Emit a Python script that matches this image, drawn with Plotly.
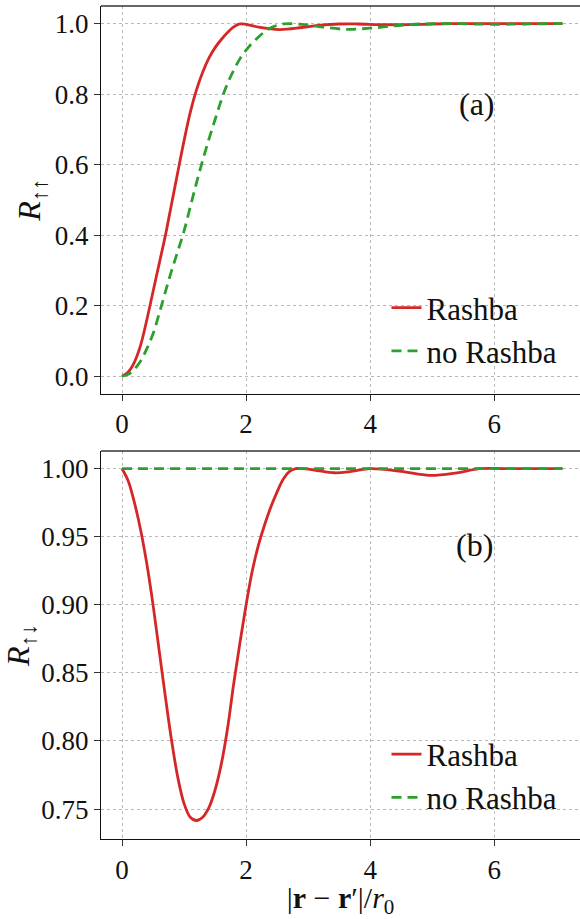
import plotly.graph_objects as go

# ---- data ----
x_a_rashba = [0, 0.1, 0.2, 0.3, 0.4, 0.5, 0.6, 0.7, 0.8, 0.9, 1.0, 1.1, 1.2, 1.3, 1.4, 1.5, 1.6, 1.7,
              1.8, 1.9, 2.0, 2.2, 2.54, 2.9, 3.2, 3.5, 3.8, 4.2, 4.6, 5.0, 5.5, 6.0, 6.5, 7.1]
y_a_rashba = [0, 0.012, 0.040, 0.088, 0.160, 0.240, 0.320, 0.400, 0.490, 0.580, 0.668, 0.748, 0.812,
              0.862, 0.902, 0.932, 0.955, 0.975, 0.991, 0.999, 0.998, 0.990, 0.983, 0.989, 0.996, 0.999,
              0.999, 0.997, 0.997, 0.999, 1.0, 1.0, 1.0, 1.0]

x_a_norashba = [0, 0.1, 0.2, 0.3, 0.4, 0.5, 0.6, 0.7, 0.8, 0.9, 1.0, 1.1, 1.2, 1.3, 1.4, 1.5, 1.6, 1.7,
                1.8, 1.9, 2.0, 2.1, 2.2, 2.3, 2.4, 2.5, 2.6, 2.7, 2.9, 3.2, 3.6, 4.0, 4.4, 4.8, 5.3,
                6.0, 6.5, 7.1]
y_a_norashba = [0, 0.005, 0.02, 0.043, 0.078, 0.12, 0.178, 0.24, 0.30, 0.355, 0.412, 0.48, 0.548,
                0.612, 0.672, 0.728, 0.783, 0.83, 0.868, 0.90, 0.925, 0.945, 0.962, 0.977, 0.988,
                0.995, 0.999, 1.0, 0.998, 0.991, 0.984, 0.987, 0.994, 0.999, 1.0, 0.998, 0.999, 1.0]

x_b_rashba = [0, 0.1, 0.2, 0.3, 0.4, 0.5, 0.6, 0.7, 0.8, 0.9, 1.0, 1.1, 1.2, 1.3, 1.4, 1.5, 1.6, 1.7,
              1.8, 1.9, 2.0, 2.1, 2.2, 2.3, 2.4, 2.5, 2.6, 2.7, 2.8, 2.9, 3.1, 3.43, 3.7, 4.0, 4.5,
              4.96, 5.4, 5.77, 6.2, 6.7, 7.1]
y_b_rashba = [1.0, 0.991, 0.975, 0.955, 0.93, 0.90, 0.866, 0.832, 0.80, 0.773, 0.754, 0.744, 0.7416,
              0.744, 0.751, 0.764, 0.783, 0.809, 0.842, 0.872, 0.90, 0.925, 0.944, 0.959, 0.972, 0.983,
              0.9925, 0.998, 1.0, 1.0, 0.999, 0.997, 0.998, 1.0, 0.998, 0.9951, 0.997, 1.0, 1.0, 1.0, 1.0]

x_b_norashba = [0, 1, 2, 3, 4, 5, 6, 7.1]
y_b_norashba = [1, 1, 1, 1, 1, 1, 1, 1]

series_names = ["Rashba", "no Rashba"]
panel_labels = ["(a)", "(b)"]
x_ticks = [0, 2, 4, 6]
y_ticks_a = [0.0, 0.2, 0.4, 0.6, 0.8, 1.0]
y_ticks_b = [0.75, 0.80, 0.85, 0.90, 0.95, 1.00]

RED = "#d62728"
GREEN = "#2ca02c"
FONT = "Liberation Serif"
LW = 2.8

fig = go.Figure()
fig.add_trace(go.Scatter(x=x_a_rashba, y=y_a_rashba, mode="lines", name=series_names[0],
                         line=dict(color=RED, width=LW, shape="spline", smoothing=1.0),
                         xaxis="x", yaxis="y", legend="legend"))
fig.add_trace(go.Scatter(x=x_a_norashba, y=y_a_norashba, mode="lines", name=series_names[1],
                         line=dict(color=GREEN, width=LW, dash="10px,6px", shape="spline", smoothing=1.0),
                         xaxis="x", yaxis="y", legend="legend"))
fig.add_trace(go.Scatter(x=x_b_rashba, y=y_b_rashba, mode="lines", name=series_names[0],
                         line=dict(color=RED, width=LW, shape="spline", smoothing=1.0),
                         xaxis="x2", yaxis="y2", legend="legend2"))
fig.add_trace(go.Scatter(x=x_b_norashba, y=y_b_norashba, mode="lines", name=series_names[1],
                         line=dict(color=GREEN, width=LW, dash="10px,6px"),
                         xaxis="x2", yaxis="y2", legend="legend2"))

axis_common = dict(
    showline=True, linecolor="#111", linewidth=1.3,
    ticks="outside", ticklen=6, tickwidth=1.2, tickcolor="#333",
    showgrid=True, gridcolor="#b8b8b8", gridwidth=0.8, griddash="dot",
    zeroline=False, automargin=False, tickfont=dict(family=FONT, size=27, color="#111"),
)

xr = [-0.339, 7.382]
fig.update_layout(
    width=580, height=919,
    margin=dict(l=101, r=0, t=6, b=80),
    plot_bgcolor="white", paper_bgcolor="white",
    font=dict(family=FONT, color="#111"),
    xaxis=dict(domain=[0, 1], range=xr, anchor="y", tickvals=x_ticks, **axis_common),
    yaxis=dict(domain=[0.5345, 1], range=[-0.05, 1.05], anchor="x", tickvals=y_ticks_a,
               tickformat=".1f",
               title=dict(text="<i>R</i><sub>↑↑</sub>", font=dict(family=FONT, size=32), standoff=4),
               **axis_common),
    xaxis2=dict(domain=[0, 1], range=xr, anchor="y2", tickvals=x_ticks,
                title=dict(text="|<b>r</b> − <b>r</b>′|/<i>r</i><sub>0</sub>", font=dict(family=FONT, size=30),
                           standoff=9),
                **axis_common),
    yaxis2=dict(domain=[0, 0.4658], range=[0.728, 1.013], anchor="x2", tickvals=y_ticks_b,
                tickformat=".2f",
                title=dict(text="<i>R</i><sub>↑↓</sub>", font=dict(family=FONT, size=32), standoff=4),
                **axis_common),
    legend=dict(x=0.596, y=0.670, xanchor="left", yanchor="top", bgcolor="rgba(0,0,0,0)",
                font=dict(family=FONT, size=31, color="#111"), tracegroupgap=0),
    legend2=dict(x=0.596, y=0.134, xanchor="left", yanchor="top", bgcolor="rgba(0,0,0,0)",
                 font=dict(family=FONT, size=31, color="#111"), tracegroupgap=0),
    showlegend=True,
)

# top spines (right spine falls outside the picture)
for xref, yref in [("x domain", "y domain"), ("x2 domain", "y2 domain")]:
    fig.add_shape(type="line", xref=xref, yref=yref, x0=0, x1=1, y0=1, y1=1,
                  line=dict(color="#333", width=1.3))

fig.add_annotation(text=panel_labels[0], xref="x domain", yref="y domain", x=0.8277, y=0.80,
                   showarrow=False, font=dict(family=FONT, size=32, color="#111"))
fig.add_annotation(text=panel_labels[1], xref="x2 domain", yref="y2 domain", x=0.822, y=0.809,
                   showarrow=False, font=dict(family=FONT, size=32, color="#111"))

fig.write_html("out.html", config={"displayModeBar": False, "displaylogo": False},
               post_script="document.body.style.margin='0';document.body.style.overflow='hidden';")
